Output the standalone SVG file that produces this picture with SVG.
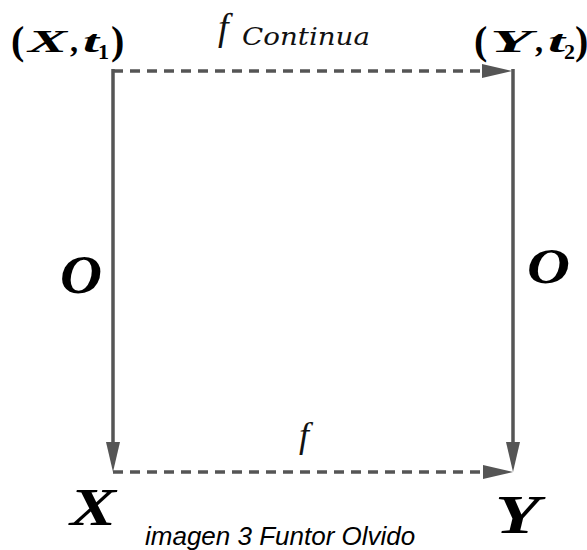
<svg xmlns="http://www.w3.org/2000/svg" width="587" height="550" viewBox="0 0 587 550">
<style>
.m{font-family:"Liberation Serif","DejaVu Serif",serif;font-weight:bold;font-style:italic;fill:#000}
.p{font-family:"Liberation Serif","DejaVu Serif",serif;font-weight:bold;fill:#000}
.i{font-family:"DejaVu Serif","Liberation Serif",serif;font-style:italic;fill:#111}
.j{font-family:"Times New Roman","Liberation Serif",serif;font-style:italic;fill:#111}
.cap{font-family:"Liberation Sans",Arial,sans-serif;font-style:italic;fill:#000}
.c{fill:none;stroke:#555;stroke-width:3.5}
.d{stroke-dasharray:10 7}
</style>
<defs>
<marker id="ah" markerUnits="userSpaceOnUse" markerWidth="32" markerHeight="18" viewBox="0 -8 32 16" refX="0" refY="0" orient="auto">
<path d="M0,-7 L30,0 L0,7 Z" fill="#555"/>
</marker>
</defs>
<g id="connectors">
<path class="c d" d="M113,71 H482" marker-end="url(#ah)"/>
<path class="c d" d="M113,472 H483" marker-end="url(#ah)"/>
<path class="c" d="M113,69 V442" marker-end="url(#ah)"/>
<path class="c" d="M513,69 V442" marker-end="url(#ah)"/>
</g>
<g id="node-Xt1">
<text class="p" x="11" y="54" font-size="40">(</text>
<text class="m" x="28" y="52" font-size="32" textLength="39" lengthAdjust="spacingAndGlyphs">X</text>
<text class="p" x="70" y="52" font-size="32">,</text>
<text class="m" x="83" y="52" font-size="32" textLength="16" lengthAdjust="spacingAndGlyphs">t</text>
<text class="p" x="98" y="59" font-size="22">1</text>
<text class="p" x="111" y="54" font-size="40">)</text>
</g>
<g id="node-Yt2">
<text class="p" x="474" y="54" font-size="40">(</text>
<text class="m" x="490" y="52" font-size="32" textLength="42" lengthAdjust="spacingAndGlyphs">Y</text>
<text class="p" x="535" y="52" font-size="32">,</text>
<text class="m" x="548" y="52" font-size="32" textLength="17" lengthAdjust="spacingAndGlyphs">t</text>
<text class="p" x="564" y="59" font-size="22">2</text>
<text class="p" x="575" y="54" font-size="40">)</text>
</g>
<g id="node-X">
<text class="m" x="70" y="525" font-size="52" textLength="46" lengthAdjust="spacingAndGlyphs">X</text>
</g>
<g id="node-Y">
<text class="m" x="495" y="533" font-size="55" textLength="45" lengthAdjust="spacingAndGlyphs">Y</text>
</g>
<g id="labels">
<text class="j" x="218" y="40" font-size="38">f</text>
<text class="i" x="242" y="45" font-size="25" textLength="128" lengthAdjust="spacingAndGlyphs">Continua</text>
<text class="j" x="299" y="447" font-size="36">f</text>
<text class="m" x="60" y="293" font-size="54" textLength="42" lengthAdjust="spacingAndGlyphs">O</text>
<text class="m" x="527" y="283" font-size="50" textLength="43" lengthAdjust="spacingAndGlyphs">O</text>
</g>
<text class="cap" x="145" y="545" font-size="26">imagen 3 Funtor Olvido</text>
</svg>
